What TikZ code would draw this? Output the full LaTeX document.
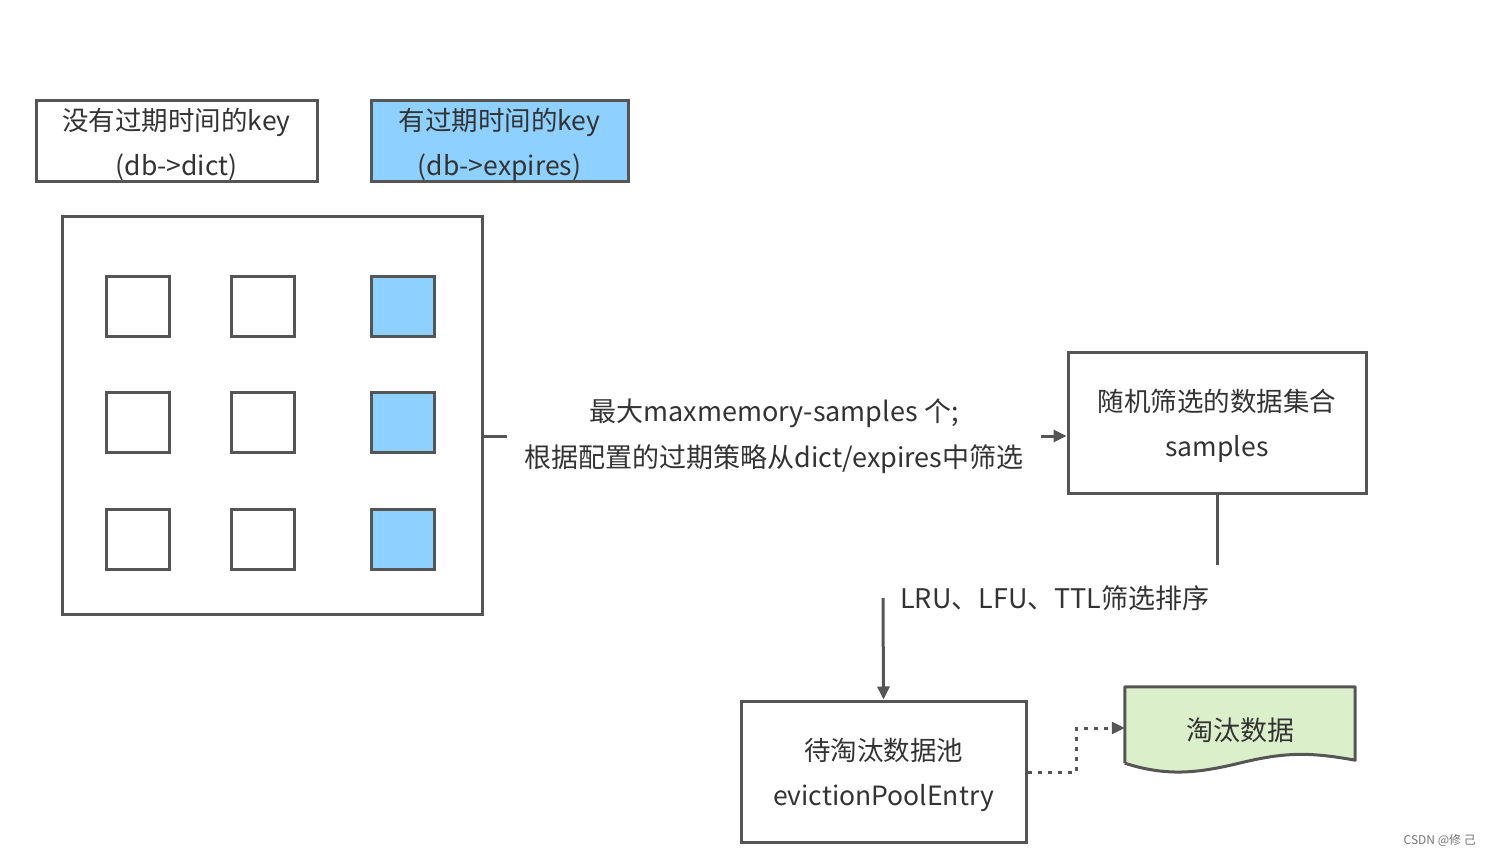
\documentclass[tikz,border=0pt]{standalone}
\usepackage{fontspec}
\setmainfont{Noto Sans CJK SC}
\usetikzlibrary{arrows.meta,calc}
\definecolor{lc}{HTML}{555555}
\definecolor{txt}{HTML}{333333}
\definecolor{kblue}{HTML}{8ED0FF}
\definecolor{kgreen}{HTML}{DCEFCB}
\newcommand{\tallstrut}{\rule{0pt}{29pt}}
\begin{document}
\begin{tikzpicture}[x=1pt,y=-1pt,
  box/.style={draw=lc, line width=3pt, fill=white, inner sep=0pt, align=center, text=txt,
    font=\fontsize{26.5}{45}\selectfont},
  bluebox/.style={box, fill=kblue},
  sq/.style={draw=lc, line width=3pt, minimum width=63pt, minimum height=60pt, inner sep=0pt},
  lbl/.style={text=txt, align=center, inner sep=0pt, font=\fontsize{27}{46}\selectfont},
  conn/.style={draw=lc, line width=3pt},
  tip/.style={-{Triangle[length=13pt,width=12pt]}},
  dots/.style={draw=lc, line width=3pt, dash pattern=on 4pt off 6pt}
]
\useasboundingbox (0,0) rectangle (1492,856);

% legend
\node[box, minimum width=281pt, minimum height=81pt] (leg1) at (176.5,141.5)
  {\tallstrut 没有过期时间的key\\(db->dict)};
\node[bluebox, minimum width=257pt, minimum height=81pt] (leg2) at (499.5,141.5)
  {\tallstrut 有过期时间的key\\(db->expires)};

% big box with keys
\node[draw=lc, line width=3pt, minimum width=420pt, minimum height=398pt, inner sep=0pt] (big) at (272,415) {};
\foreach \c/\x in {1/137.5,2/262.5} {
  \foreach \r/\y in {1/306,2/422.5,3/539} {
    \node[sq] (s\c\r) at (\x,\y) {};
  }
}
\foreach \r/\y in {1/306,2/422.5,3/539} {
  \node[sq, fill=kblue] (s3\r) at (402.5,\y) {};
}

% samples box
\node[box, minimum width=298pt, minimum height=141pt] (samples) at (1217,422.5)
  {\tallstrut 随机筛选的数据集合\\samples};

% label between big box and samples
\node[lbl, inner xsep=17pt] (sel) at (774,436)
  {最大maxmemory-samples 个;\\根据配置的过期策略从dict/expires中筛选};
\draw[conn] (big.east |- sel.center) -- (sel.west |- sel.center);
\draw[conn, tip] (sel.east |- sel.center) -- (samples.west |- sel.center);

% eviction pool
\node[box, minimum width=285pt, minimum height=141pt] (pool) at (883.5,771.5)
  {\tallstrut 待淘汰数据池\\evictionPoolEntry};

% LRU label and connector
\coordinate (c1) at (1217,565);
\coordinate (c2) at (883,598);
\node[lbl, anchor=west] (sortlbl) at (900,598) {LRU、LFU、TTL筛选排序};
\draw[conn] (samples.south) -- (c1);
\draw[conn, tip] (c2) -- (pool.north);

% document shape
\node[inner sep=0pt, minimum width=230pt, minimum height=76pt] (doc) at (1240,725) {};
\fill[kgreen] (doc.north west) -- (doc.north east) -- ($(doc.south east)+(0,-3)$)
  .. controls (1310,752) and (1285,752) .. (1240,763)
  .. controls (1195,774) and (1165,776) .. (doc.south west) -- cycle;
\draw[conn, line join=round] (doc.south west) -- (doc.north west) -- (doc.north east) -- ($(doc.south east)+(0,-3)$)
  .. controls (1310,752) and (1285,752) .. (1240,763)
  .. controls (1195,774) and (1165,776) .. (doc.south west);
\node[lbl] (doctext) at (1240,730) {淘汰数据};

% dotted connector
\coordinate (d1) at (1076,772);
\coordinate (d2) at (1076,728);
\draw[dots, tip] (pool.east |- d1) -- (d1) -- (d2) -- (doc.west |- d2);

% watermark
\node[text=black!55, font=\fontsize{12}{14}\selectfont, anchor=east, inner sep=0pt] (wm) at (1476,840) {CSDN @修 己};
\end{tikzpicture}
\end{document}
